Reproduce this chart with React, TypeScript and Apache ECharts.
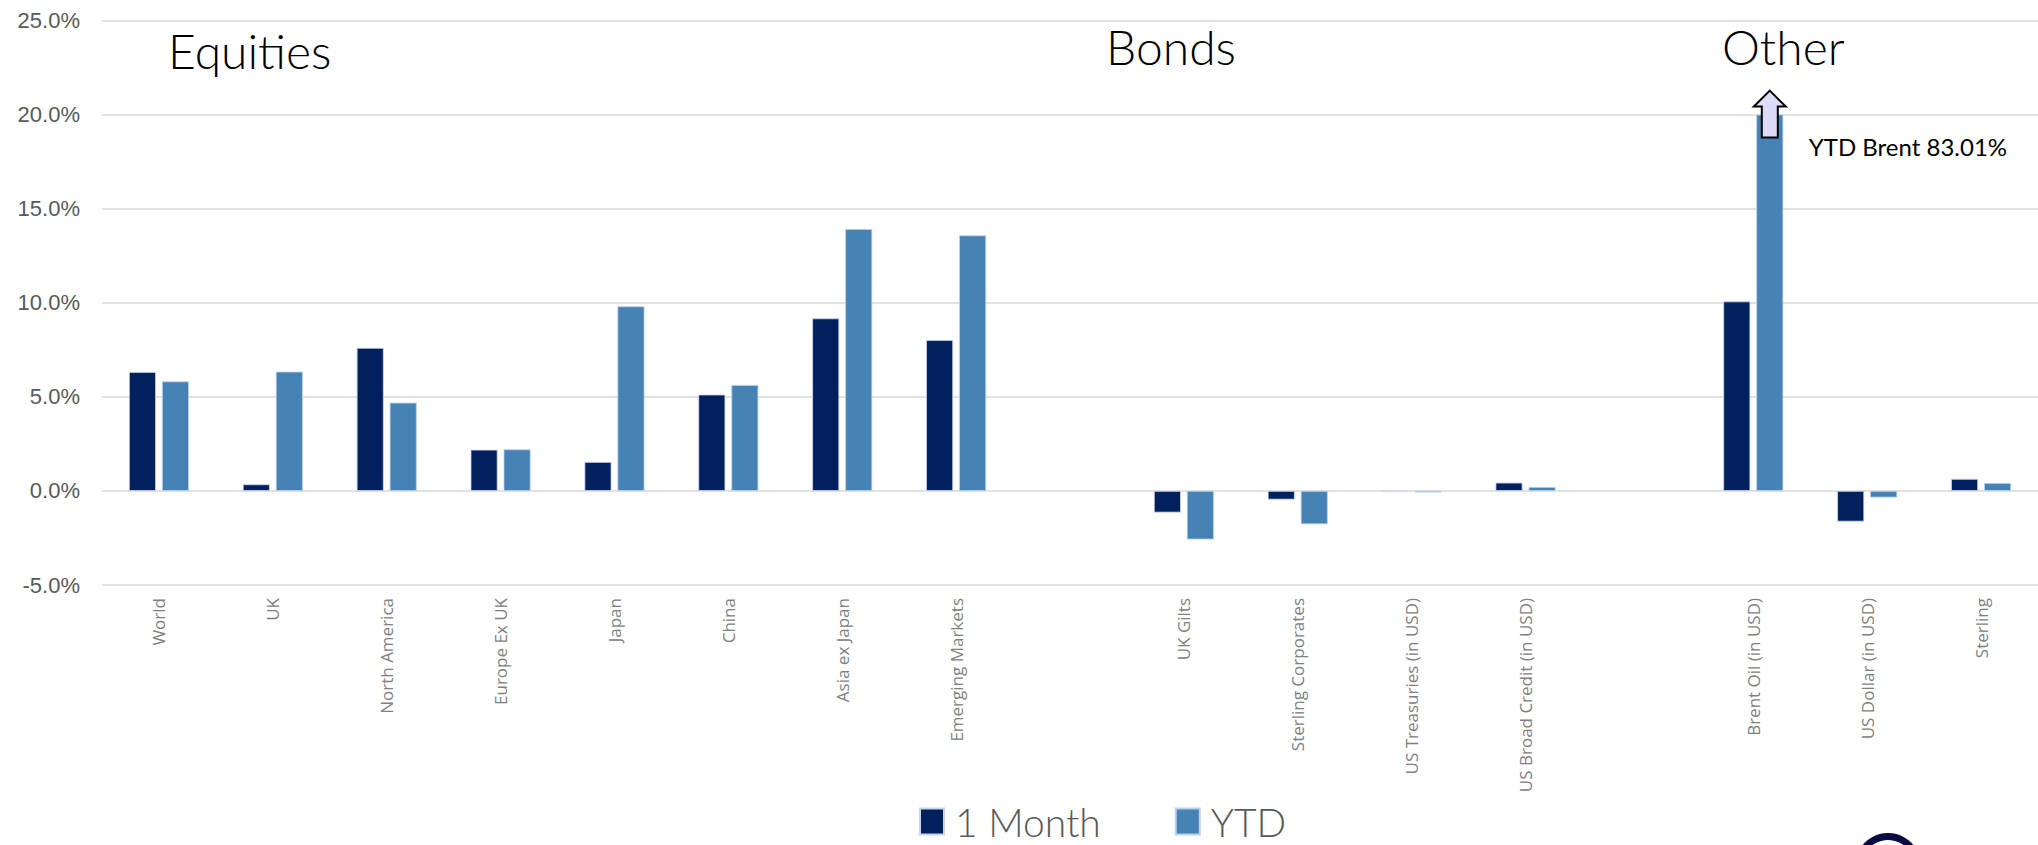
import React, { useEffect, useRef } from "react";
import * as echarts from "echarts";

const categories = [
  "World", "UK", "North America", "Europe Ex UK", "Japan", "China", "Asia ex Japan", "Emerging Markets", "",
  "UK Gilts", "Sterling Corporates", "US Treasuries (in USD)", "US Broad Credit (in USD)", "",
  "Brent Oil (in USD)", "US Dollar (in USD)", "Sterling",
];
const oneMonth = [6.32, 0.35, 7.6, 2.19, 1.54, 5.12, 9.17, 8.02, null, -1.15, -0.46, -0.02, 0.44, null, 10.07, -1.63, 0.64];
const ytd = [5.82, 6.34, 4.69, 2.21, 9.81, 5.63, 13.92, 13.58, null, -2.58, -1.77, -0.08, 0.21, null, 20.0, -0.35, 0.42];
const yTicks = { min: -5, max: 25, interval: 5 };
const groupLabels = [
  { text: "Equities", x: 168, y: 26 },
  { text: "Bonds", x: 1106, y: 22 },
  { text: "Other", x: 1722, y: 22 },
];
const brentNote = "YTD Brent 83.01%";

const DARK = "#03205e";
const LIGHT = "#4682b4";
const BAR_W = 27;
const BAR_GAP = 6;

export default function App() {
  const ref = useRef<HTMLDivElement>(null);
  useEffect(() => {
    if (!ref.current) return;
    const chart = echarts.init(ref.current, null, { renderer: "svg" });
    chart.setOption({
      animation: false,
      backgroundColor: "#ffffff",
      grid: { left: 102, right: 0, top: 20.5, bottom: 260, containLabel: false },
      xAxis: {
        type: "category",
        data: categories,
        axisLine: { show: false },
        axisTick: { show: false },
        axisLabel: {
          interval: 0,
          rotate: 90,
          margin: 13,
          color: "#808080",
          fontFamily: "Open Sans",
          fontSize: 17,
        },
      },
      yAxis: {
        type: "value",
        min: yTicks.min,
        max: yTicks.max,
        interval: yTicks.interval,
        axisLine: { show: false },
        axisTick: { show: false },
        splitLine: { lineStyle: { color: "#d9d9d9", width: 1.5 } },
        axisLabel: {
          margin: 22,
          color: "#595959",
          fontFamily: "Liberation Sans",
          fontSize: 22,
          formatter: (v: number) => v.toFixed(1) + "%",
        },
      },
      legend: {
        data: ["1 Month", "YTD"],
        left: 919,
        top: 802,
        padding: 0,
        icon: "rect",
        itemWidth: 24,
        itemHeight: 26,
        itemGap: 74,
        textStyle: {
          fontSize: 39,
          lineHeight: 38,
          color: "#595959",
          fontFamily: "Lato",
          fontWeight: 300,
          padding: [0, 0, 0, 6],
        },
      },
      series: [
        {
          name: "1 Month",
          type: "bar",
          data: oneMonth,
          barWidth: BAR_W,
          barGap: (BAR_GAP / BAR_W) * 100 + "%",
          itemStyle: { color: DARK, borderColor: "#c9d6ea", borderWidth: 0.8 },
        },
        {
          name: "YTD",
          type: "bar",
          data: ytd,
          barWidth: BAR_W,
          itemStyle: { color: LIGHT, borderColor: "#bcd2ea", borderWidth: 0.8 },
        },
      ],
    });

    const brentIdx = categories.indexOf("Brent Oil (in USD)");
    const p = chart.convertToPixel({ xAxisIndex: 0, yAxisIndex: 0 } as any, [brentIdx, ytd[brentIdx] as number]) as number[];
    const cx = p[0] + (BAR_W + BAR_GAP) / 2;
    const top = p[1];
    const arrowPts = [
      [cx, top - 24],
      [cx + 16, top - 8],
      [cx + 8, top - 8],
      [cx + 8, top + 23],
      [cx - 8, top + 23],
      [cx - 8, top - 8],
      [cx - 16, top - 8],
    ];
    chart.setOption({
      graphic: [
        ...groupLabels.map((g) => ({
          type: "text",
          left: g.x,
          top: g.y,
          style: { text: g.text, fontSize: 48, fontFamily: "Lato", fontWeight: 300, fill: "#000000" },
        })),
        {
          type: "polygon",
          shape: { points: arrowPts },
          style: { fill: "#dcdcf8", stroke: "#000000", lineWidth: 2 },
          z: 10,
        },
        {
          type: "text",
          left: cx + 39,
          top: top + 20,
          style: { text: brentNote, fontSize: 24, fontFamily: "Lato", fill: "#000000" },
        },
        {
          type: "ring",
          shape: { cx: 1888, cy: 866, r: 33, r0: 26 },
          style: { fill: "#0a0a45" },
        },
      ],
    });
    return () => chart.dispose();
  }, []);
  return <div ref={ref} style={{ position: "fixed", left: 0, top: 0, width: 2038, height: 845 }} />;
}
